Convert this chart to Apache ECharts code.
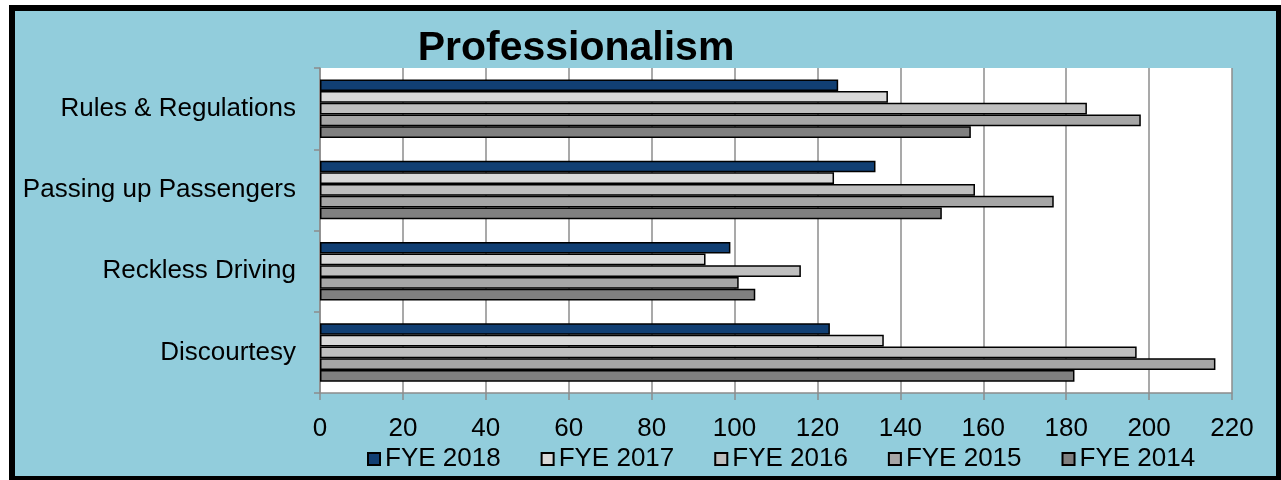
<!DOCTYPE html>
<html lang="en">
<head>
	<meta charset="utf-8">
	<title>Professionalism</title>
	<script src="https://cdn.jsdelivr.net/npm/echarts@6/dist/echarts.min.js"></script>
	<style type="text/css">
		body {margin:0;background:#fff}
		#frame {position:absolute;left:9px;top:5px;width:1261px;height:465px;border:6px solid #000;background:#92CDDC}
		#chart {width:1261px;height:465px}
	</style>
</head>
<body>
	<div id="frame"><div id="chart"></div></div>
	<script>
		// categories top to bottom
		var categories = ["Rules & Regulations", "Passing up Passengers", "Reckless Driving", "Discourtesy"];
		var years = ["FYE 2018", "FYE 2017", "FYE 2016", "FYE 2015", "FYE 2014"];
		var fye2018 = [125, 134, 99, 123];
		var fye2017 = [137, 124, 93, 136];
		var fye2016 = [185, 158, 116, 197];
		var fye2015 = [198, 177, 101, 216];
		var fye2014 = [157, 150, 105, 182];
		var xTicks = [0, 220, 20];

		var colors = ["#113F73", "#D9D9D9", "#BFBFBF", "#A6A6A6", "#808080"];
		var values = [fye2018, fye2017, fye2016, fye2015, fye2014];

		var myChart = echarts.init(document.getElementById("chart"));

		var series = [];
		for (var i = 0; i < years.length; i++) {
			series.push({
				name: years[i],
				type: "bar",
				data: values[i],
				barGap: "0%",
				barCategoryGap: "28%",
				itemStyle: {
					color: colors[i],
					borderColor: "#000",
					borderWidth: 1.5
				}
			});
		}

		var option = {
			animation: false,
			textStyle: {fontFamily: "Liberation Sans"},
			title: {
				text: "Professionalism",
				left: 556,
				textAlign: "center",
				top: 12,
				textStyle: {fontSize: 41, fontWeight: "bold", color: "#000", fontFamily: "Liberation Sans"}
			},
			legend: {
				data: years,
				left: 347,
				top: 430,
				itemWidth: 12,
				itemHeight: 12,
				itemGap: 40,
				icon: "rect",
				textStyle: {fontSize: 26, color: "#000", fontFamily: "Liberation Sans"}
			},
			grid: {
				left: 305,
				right: 44,
				top: 57,
				bottom: 83,
				outerBoundsMode: "none",
				show: true,
				backgroundColor: "#fff",
				borderWidth: 0
			},
			xAxis: {
				type: "value",
				min: xTicks[0],
				max: xTicks[1],
				interval: xTicks[2],
				axisLine: {show: true, lineStyle: {color: "#8c8c8c", width: 1.5}},
				axisTick: {show: true, length: 7, lineStyle: {color: "#8c8c8c", width: 1.5}},
				splitLine: {show: true, lineStyle: {color: "#8c8c8c", width: 1.5}},
				axisLabel: {fontSize: 26, color: "#000", margin: 23, fontFamily: "Liberation Sans"}
			},
			yAxis: {
				type: "category",
				data: categories,
				inverse: true,
				axisLine: {show: true, lineStyle: {color: "#8c8c8c", width: 1.5}},
				axisTick: {show: true, length: 6, lineStyle: {color: "#8c8c8c", width: 1.5}},
				axisLabel: {fontSize: 26, color: "#000", margin: 24, fontFamily: "Liberation Sans"}
			},
			series: series
		};

		myChart.setOption(option);
	</script>
</body>
</html>
